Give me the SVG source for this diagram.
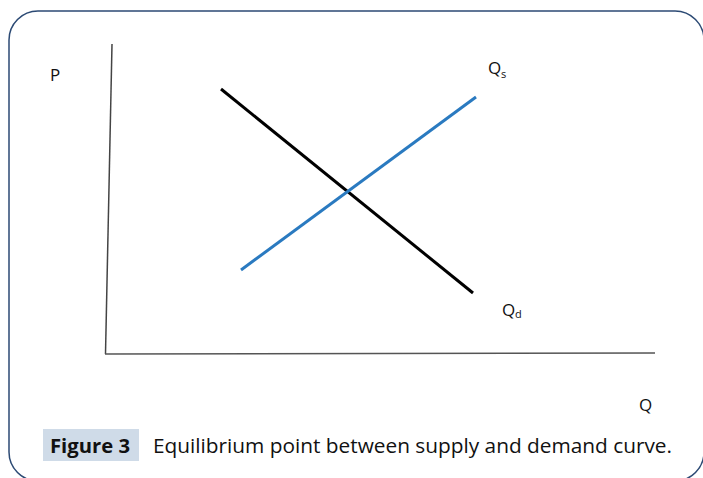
<svg xmlns="http://www.w3.org/2000/svg" width="703" height="478" viewBox="0 0 703 478">
<style>
.lbl{font-family:"Open Sans","Liberation Sans",sans-serif;font-size:17px;fill:#111}
.sub{font-family:"Open Sans","Liberation Sans",sans-serif;font-size:11px;fill:#111}
.cap{font-family:"Open Sans","Liberation Sans",sans-serif;font-size:20px;fill:#111}
</style>
<rect x="9" y="11" width="695" height="470" rx="29" ry="29" fill="#fff" stroke="#2c4a74" stroke-width="1.5"/>
<g id="axes">
<line x1="112" y1="44" x2="105.5" y2="354" stroke="#444" stroke-width="1.5"/>
<line x1="105" y1="354" x2="655" y2="353" stroke="#555" stroke-width="1.5"/>
</g>
<g id="connectors">
<line id="demand" x1="221" y1="89" x2="473" y2="293" stroke="#000" stroke-width="3"/>
<line id="supply" x1="241" y1="270" x2="476" y2="97" stroke="#2a7ac0" stroke-width="3"/>
</g>
<g id="label-p"><text class="lbl" x="50" y="81">P</text></g>
<g id="label-qs"><text class="lbl" x="488" y="74">Q</text><text class="sub" x="501" y="78">s</text></g>
<g id="label-qd"><text class="lbl" x="502" y="316">Q</text><text class="sub" x="515" y="318">d</text></g>
<g id="label-q"><text class="lbl" x="639" y="411">Q</text></g>
<g id="caption">
<rect x="43" y="429" width="96" height="32" fill="#cfdbe8"/>
<text class="cap" x="50" y="453" font-weight="bold" textLength="80" lengthAdjust="spacingAndGlyphs">Figure 3</text>
<text class="cap" x="153" y="453" textLength="519" lengthAdjust="spacingAndGlyphs">Equilibrium point between supply and demand curve.</text>
</g>
</svg>
